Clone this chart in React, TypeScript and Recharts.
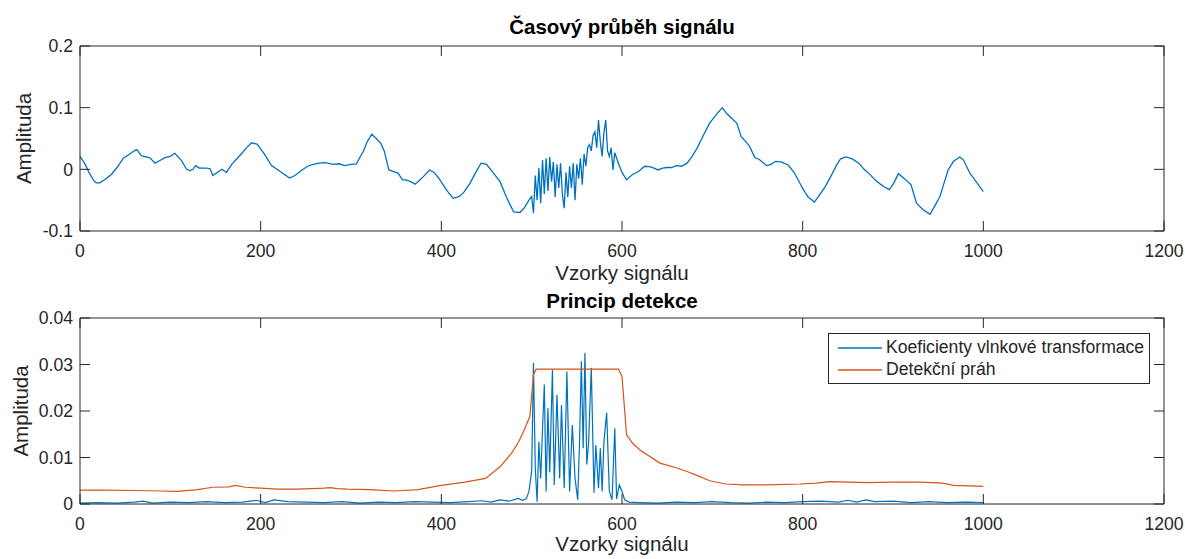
import React from 'react';
import { LineChart, Line, XAxis, YAxis, Legend } from 'recharts';

const FONT = "'Liberation Sans', Arial, Helvetica, sans-serif";
const INK = '#262626';
const BLUE = '#0072BD';
const ORANGE = '#D95319';
const TICK = 10;
const TICK_FONT = 17.6;
const LABEL_FONT = 20.5;

const xTicks = [0, 200, 400, 600, 800, 1000, 1200];
const xTickLabels = ['0', '200', '400', '600', '800', '1000', '1200'];
const topYTicks = [-0.1, 0, 0.1, 0.2];
const topYTickLabels = ['-0.1', '0', '0.1', '0.2'];
const bottomYTicks = [0, 0.01, 0.02, 0.03, 0.04];
const bottomYTickLabels = ['0', '0.01', '0.02', '0.03', '0.04'];

const titles = ['Časový průběh signálu', 'Princip detekce'];
const xLabel = 'Vzorky signálu';
const yLabel = 'Amplituda';
const seriesNames = ['Koeficienty vlnkové transformace', 'Detekční práh'];

// Top panel: signal
const signalSample = [
  0, 5, 10, 15, 18, 22, 28, 35, 42, 48,
  55, 60, 63, 68, 74, 78, 83, 88, 94, 100,
  105, 112, 118, 122, 125, 128, 132, 140, 144, 147,
  152, 157, 162, 168, 178, 185, 190, 196, 204, 212,
  220, 226, 232, 238, 245, 252, 258, 265, 272, 280,
  287, 293, 300, 306, 310, 314, 318, 323, 328, 333,
  337, 340, 342, 348, 352, 357, 361, 366, 371, 378,
  387, 392, 397, 405, 413, 420, 425, 432, 438, 444,
  450, 456, 465, 472, 480, 487, 492, 497, 500, 502,
  504, 506, 508, 510, 512, 514, 516, 518, 520, 522,
  524, 526, 528, 530, 532, 534, 536, 538, 540, 542,
  544, 546, 548, 550, 552, 554, 556, 558, 560, 562,
  564, 566, 568, 570, 572, 574, 576, 578, 580, 582,
  584, 586, 588, 590, 592, 596, 600, 605, 612, 618,
  625, 632, 640, 645, 650, 655, 660, 666, 672, 678,
  683, 690, 697, 705, 711, 716, 722, 727, 732, 737,
  741, 747, 752, 757, 760, 765, 770, 776, 784, 791,
  800, 806, 813, 817, 825, 832, 838, 842, 848, 855,
  862, 868, 875, 880, 886, 891, 896, 901, 906, 910,
  914, 920, 923, 926, 933, 941, 946, 952, 957, 961,
  967, 974, 978, 985, 992, 1000,
];
const signalAmplitude = [
  0.021, 0.010, -0.005, -0.018, -0.022, -0.022, -0.016, -0.008, 0.005, 0.018,
  0.025, 0.030, 0.032, 0.022, 0.020, 0.018, 0.010, 0.014, 0.019, 0.021,
  0.026, 0.015, 0.000, -0.002, 0.000, 0.006, 0.002, 0.002, 0.001, -0.010,
  -0.005, 0.000, -0.005, 0.008, 0.024, 0.036, 0.043, 0.041, 0.025, 0.006,
  -0.002, -0.008, -0.014, -0.010, -0.002, 0.005, 0.008, 0.010, 0.011, 0.008,
  0.009, 0.006, 0.008, 0.009, 0.020, 0.030, 0.045, 0.057, 0.050, 0.042,
  0.029, 0.010, -0.001, -0.004, -0.006, -0.017, -0.017, -0.020, -0.024, -0.015,
  -0.001, -0.005, -0.014, -0.032, -0.047, -0.044, -0.037, -0.022, -0.005, 0.010,
  0.008, -0.003, -0.020, -0.045, -0.069, -0.070, -0.062, -0.050, -0.044, -0.071,
  -0.010, -0.050, 0.002, -0.055, 0.015, -0.040, 0.018, -0.035, 0.020, -0.020,
  0.012, -0.045, 0.008, -0.030, 0.010, -0.040, -0.063, -0.005, -0.045, 0.005,
  -0.030, 0.010, -0.050, 0.008, -0.015, 0.018, -0.025, 0.025, 0.005, 0.035,
  0.040, 0.030, 0.055, 0.061, 0.035, 0.080, 0.045, 0.021, 0.060, 0.080,
  0.030, 0.021, 0.035, -0.001, 0.027, 0.010, -0.005, -0.017, -0.008, -0.004,
  0.005, 0.004, -0.001, 0.002, 0.003, 0.003, 0.006, 0.005, 0.010, 0.022,
  0.034, 0.055, 0.075, 0.090, 0.100, 0.090, 0.082, 0.075, 0.053, 0.045,
  0.038, 0.019, 0.016, 0.010, 0.006, 0.008, 0.013, 0.012, 0.007, -0.006,
  -0.031, -0.045, -0.053, -0.045, -0.028, -0.009, 0.008, 0.017, 0.020, 0.017,
  0.010, 0.000, -0.009, -0.017, -0.024, -0.029, -0.033, -0.022, -0.007, -0.012,
  -0.017, -0.025, -0.040, -0.055, -0.065, -0.073, -0.060, -0.044, -0.020, -0.001,
  0.013, 0.020, 0.015, -0.006, -0.020, -0.036,
];

// Bottom panel: wavelet coefficients
const coefSample = [
  0, 20, 40, 60, 70, 80, 100, 120, 140, 160,
  180, 195, 205, 215, 230, 250, 270, 290, 310, 330,
  350, 370, 390, 410, 430, 445, 455, 465, 475, 485,
  490, 494, 497, 500, 502, 504, 506, 508, 510, 512,
  514, 516, 518, 520, 523, 525, 528, 531, 533, 536,
  539, 542, 545, 548, 551, 553, 555, 557, 559, 561,
  563, 566, 569, 571, 574, 576, 578, 580, 583, 586,
  589, 592, 594, 597, 600, 603, 608, 620, 640, 660,
  680, 700, 720, 740, 760, 780, 800, 820, 840, 850,
  860, 870, 880, 900, 920, 940, 960, 980, 1000,
];
const coefValue = [
  0.0002, 0.0003, 0.0002, 0.0004, 0.0006, 0.0002, 0.0004, 0.0003, 0.0005, 0.0003,
  0.0004, 0.0008, 0.0003, 0.0009, 0.0005, 0.0004, 0.0003, 0.0005, 0.0002, 0.0004,
  0.0003, 0.0005, 0.0004, 0.0003, 0.0005, 0.0007, 0.0004, 0.0009, 0.0006, 0.0012,
  0.0008, 0.0011, 0.0027, 0.0070, 0.0303, 0.0077, 0.0005, 0.0134, 0.0055, 0.0160,
  0.0257, 0.0027, 0.0206, 0.0068, 0.0289, 0.0041, 0.0235, 0.0055, 0.0213, 0.0034,
  0.0285, 0.0027, 0.0170, 0.0055, 0.0009, 0.0134, 0.0307, 0.0120, 0.0325, 0.0085,
  0.0130, 0.0293, 0.0024, 0.0127, 0.0034, 0.0120, 0.0027, 0.0134, 0.0196, 0.0027,
  0.0009, 0.0163, 0.0011, 0.0041, 0.0027, 0.0009, 0.0004, 0.0003, 0.0002, 0.0004,
  0.0003, 0.0005, 0.0003, 0.0002, 0.0004, 0.0003, 0.0005, 0.0006, 0.0004, 0.0008,
  0.0004, 0.0009, 0.0005, 0.0006, 0.0003, 0.0005, 0.0003, 0.0004, 0.0003,
];

// Bottom panel: detection threshold
const thresholdSample = [
  0, 30, 60, 90, 108, 130, 147, 165, 172, 183,
  200, 218, 240, 257, 270, 277, 285, 296, 320, 348,
  374, 400, 426, 449, 465, 478, 486, 491, 498, 502,
  505, 596, 600, 605, 612, 620, 642, 660, 672, 685,
  697, 715, 734, 760, 797, 815, 830, 850, 871, 900,
  930, 955, 967, 985, 1000,
];
const thresholdValue = [
  0.0030, 0.0030, 0.0029, 0.0028, 0.0027, 0.0031, 0.0036, 0.0037, 0.0040, 0.0036,
  0.0034, 0.0032, 0.0032, 0.0033, 0.0034, 0.0035, 0.0033, 0.0032, 0.0031, 0.0028,
  0.0031, 0.0040, 0.0047, 0.0055, 0.0080, 0.0110, 0.0135, 0.0156, 0.0188, 0.0278,
  0.0290, 0.0290, 0.0275, 0.0149, 0.0130, 0.0116, 0.0088, 0.0078, 0.0070, 0.0060,
  0.0050, 0.0043, 0.0041, 0.0041, 0.0043, 0.0045, 0.0048, 0.0047, 0.0046, 0.0047,
  0.0047, 0.0045, 0.0040, 0.0039, 0.0038,
];

const zip = (xs: number[], ys: number[]) => xs.map((x, i) => ({ x, y: ys[i] }));
const signalData = zip(signalSample, signalAmplitude);
const coefData = zip(coefSample, coefValue);
const thresholdData = zip(thresholdSample, thresholdValue);

const txt = { fill: INK, fontFamily: FONT };

const makeBottomTick = (labels: string[]) => (p: any) => (
  <g>
    <line x1={p.x} y1={p.y} x2={p.x} y2={p.y - TICK} stroke={INK} strokeWidth={1} />
    <text x={p.x} y={p.y + 26} textAnchor="middle" fontSize={TICK_FONT} {...txt}>
      {labels[p.index] ?? String(p.payload?.value)}
    </text>
  </g>
);
const TopTick = (p: any) => (
  <line x1={p.x} y1={p.y} x2={p.x} y2={p.y + TICK} stroke={INK} strokeWidth={1} />
);
const makeLeftTick = (labels: string[]) => (p: any) => (
  <g>
    <line x1={p.x} y1={p.y} x2={p.x + TICK} y2={p.y} stroke={INK} strokeWidth={1} />
    <text x={p.x - 7} y={p.y + 6.3} textAnchor="end" fontSize={TICK_FONT} {...txt}>
      {labels[p.index] ?? String(p.payload?.value)}
    </text>
  </g>
);
const RightTick = (p: any) => (
  <line x1={p.x} y1={p.y} x2={p.x - TICK} y2={p.y} stroke={INK} strokeWidth={1} />
);

const xLabelContent = (dy: number) => (lp: any) => {
  const vb = lp.viewBox || {};
  return (
    <text x={vb.x + vb.width / 2} y={vb.y + dy} textAnchor="middle" fontSize={LABEL_FONT} {...txt}>
      {xLabel}
    </text>
  );
};
const titleContent = (title: string, dy: number) => (lp: any) => {
  const vb = lp.viewBox || {};
  return (
    <text x={vb.x + vb.width / 2} y={vb.y + vb.height - dy} textAnchor="middle" fontSize={LABEL_FONT} fontWeight="bold" fill="#000" fontFamily={FONT}>
      {title}
    </text>
  );
};
const yLabelContent = (bx: number) => (lp: any) => {
  const vb = lp.viewBox || {};
  const cy = vb.y + vb.height / 2;
  return (
    <text x={bx} y={cy} transform={`rotate(-90 ${bx} ${cy})`} textAnchor="middle" fontSize={LABEL_FONT} {...txt}>
      {yLabel}
    </text>
  );
};

const LegendBox = (lp: any) => {
  const payload = lp.payload || [];
  const items = seriesNames.map(
    (n) => payload.find((p: any) => p.value === n) || { value: n, color: '#000' }
  );
  return (
    <div
      style={{
        position: 'relative',
        width: 322,
        height: 51,
        boxSizing: 'border-box',
        border: `1px solid ${INK}`,
        background: '#fff',
        fontFamily: FONT,
        fontSize: TICK_FONT,
        color: INK,
      }}
    >
      {items.map((it: any, i: number) => (
        <div
          key={i}
          style={{
            position: 'absolute',
            left: 0,
            top: 3 + i * 22,
            height: 22,
            display: 'flex',
            alignItems: 'center',
            whiteSpace: 'nowrap',
          }}
        >
          <svg width={57} height={22} style={{ display: 'block' }}>
            <line x1={9} x2={53} y1={11} y2={11} stroke={it.color} strokeWidth={1.3} />
          </svg>
          <span>{it.value}</span>
        </div>
      ))}
    </div>
  );
};

const BoxAxes = ({ yDomain, yTicks, title, titleDy }: any) => [
  <XAxis
    key="xt"
    xAxisId="top"
    orientation="top"
    dataKey="x"
    type="number"
    domain={[0, 1200]}
    ticks={xTicks}
    interval={0}
    height={1}
    tickSize={0}
    tickMargin={0}
    tickLine={false}
    axisLine={{ stroke: INK }}
    tick={TopTick}
    label={{ content: titleContent(title, titleDy) }}
  />,
  <YAxis
    key="yr"
    yAxisId="right"
    orientation="right"
    type="number"
    domain={yDomain}
    ticks={yTicks}
    interval={0}
    width={1}
    tickSize={0}
    tickMargin={0}
    tickLine={false}
    axisLine={{ stroke: INK }}
    tick={RightTick}
  />,
];

export default function App() {
  return (
    <div style={{ position: 'absolute', left: 0, top: 0, width: 1185, height: 559, background: '#fff' }}>
      <div style={{ position: 'absolute', left: 0, top: 0 }}>
        <LineChart width={1185} height={290} margin={{ top: 45, right: 20, bottom: 0, left: 0 }}>
          <XAxis
            dataKey="x"
            type="number"
            domain={[0, 1200]}
            ticks={xTicks}
            interval={0}
            height={59}
            tickSize={0}
            tickMargin={0}
            tickLine={false}
            axisLine={{ stroke: INK }}
            tick={makeBottomTick(xTickLabels)}
            label={{ content: xLabelContent(48.5) }}
          />
          {BoxAxes({ yDomain: [-0.1, 0.2], yTicks: topYTicks, title: titles[0], titleDy: 12 })}
          <YAxis
            type="number"
            domain={[-0.1, 0.2]}
            ticks={topYTicks}
            interval={0}
            width={80}
            tickSize={0}
            tickMargin={0}
            tickLine={false}
            axisLine={{ stroke: INK }}
            tick={makeLeftTick(topYTickLabels)}
            label={{ content: yLabelContent(31) }}
          />
          <Line
            data={signalData}
            dataKey="y"
            xAxisId="top"
            yAxisId="right"
            stroke="none"
            dot={false}
            activeDot={false}
            legendType="none"
            isAnimationActive={false}
          />
          <Line
            data={signalData}
            dataKey="y"
            name="Signál"
            type="linear"
            stroke={BLUE}
            strokeWidth={1.3}
            dot={false}
            isAnimationActive={false}
          />
        </LineChart>
      </div>
      <div style={{ position: 'absolute', left: 0, top: 290 }}>
        <LineChart width={1185} height={269} margin={{ top: 27, right: 20, bottom: 0, left: 0 }}>
          <XAxis
            dataKey="x"
            type="number"
            domain={[0, 1200]}
            ticks={xTicks}
            interval={0}
            height={55}
            tickSize={0}
            tickMargin={0}
            tickLine={false}
            axisLine={{ stroke: INK }}
            tick={makeBottomTick(xTickLabels)}
            label={{ content: xLabelContent(47) }}
          />
          {BoxAxes({ yDomain: [0, 0.04], yTicks: bottomYTicks, title: titles[1], titleDy: 10 })}
          <YAxis
            type="number"
            domain={[0, 0.04]}
            ticks={bottomYTicks}
            interval={0}
            width={80}
            tickSize={0}
            tickMargin={0}
            tickLine={false}
            axisLine={{ stroke: INK }}
            tick={makeLeftTick(bottomYTickLabels)}
            label={{ content: yLabelContent(27.5) }}
          />
          <Line
            data={thresholdData}
            dataKey="y"
            xAxisId="top"
            yAxisId="right"
            stroke="none"
            dot={false}
            activeDot={false}
            legendType="none"
            isAnimationActive={false}
          />
          <Line
            data={coefData}
            dataKey="y"
            name={seriesNames[0]}
            type="linear"
            stroke={BLUE}
            strokeWidth={1.2}
            dot={false}
            isAnimationActive={false}
          />
          <Line
            data={thresholdData}
            dataKey="y"
            name={seriesNames[1]}
            type="linear"
            stroke={ORANGE}
            strokeWidth={1.2}
            dot={false}
            isAnimationActive={false}
          />
          <Legend
            layout="vertical"
            align="center"
            verticalAlign="middle"
            wrapperStyle={{ left: 828, top: 42.7, width: 322, height: 51 }}
            content={LegendBox}
          />
        </LineChart>
      </div>
    </div>
  );
}
